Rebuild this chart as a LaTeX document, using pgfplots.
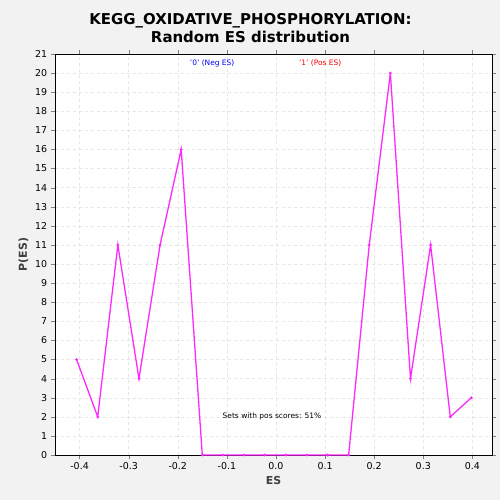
\documentclass[border=0pt]{standalone}
\usepackage{pgfplots}
\pgfplotsset{compat=1.18}
\usepackage{fontspec}
\setmainfont{DejaVu Sans}
\definecolor{pink}{RGB}{255,40,255}
\begin{document}
\begin{tikzpicture}
\fill[gray!10] (0,0) rectangle (500bp,500bp);
\begin{axis}[at={(55bp,45bp)},anchor=south west,scale only axis,
 width=437bp,height=401bp,
 xmin=-0.45,xmax=0.44,ymin=0,ymax=21,
 axis background/.style={fill=white},
 xtick={-0.4,-0.3,...,0.41},ytick={0,1,...,21},
 xticklabel style={/pgf/number format/.cd,fixed,fixed zerofill,precision=1},
 /pgf/number format/assume math mode=true,
 tick label style={font=\fontsize{9.5}{10}\selectfont},
 grid=major,grid style={dashed,gray!20},
 tick align=outside,
 xlabel={\bfseries ES},ylabel={\bfseries P(ES)},
 label style={font=\fontsize{11}{12}\selectfont,text=gray!50!black},
 title={KEGG\_OXIDATIVE\_PHOSPHORYLATION:\\Random ES distribution},
 title style={font=\bfseries\fontsize{15}{18}\selectfont,align=center,yshift=2bp,xshift=-23bp},
 clip=false]
\addplot[pink,line width=1.3pt,mark=*,mark size=0.6pt] coordinates {
(-0.406,5)(-0.363,2)(-0.322,11)(-0.279,4)(-0.236,11)(-0.193,16)(-0.15,0)
(-0.108,0)(-0.065,0)(-0.023,0)(0.02,0)(0.063,0)(0.105,0)(0.148,0)
(0.19,11)(0.233,20)(0.274,4)(0.315,11)(0.355,2)(0.398,3)};
\node[text=blue,font=\fontsize{7.5}{8}\selectfont] at (axis cs:-0.13,20.5) {'0' (Neg ES)};
\node[text=red,font=\fontsize{7.5}{8}\selectfont] at (axis cs:0.09,20.5) {'1' (Pos ES)};
\node[font=\fontsize{7.5}{8}\selectfont] at (axis cs:-0.008,2) {Sets with pos scores: 51\%};
\end{axis}
\end{tikzpicture}
\end{document}
